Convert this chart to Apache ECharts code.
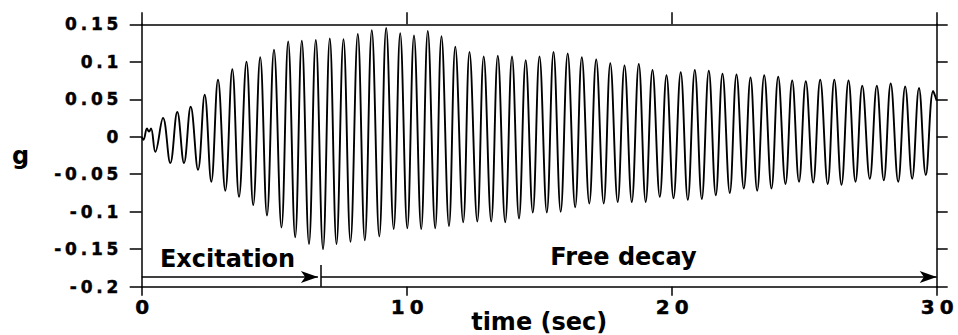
<!DOCTYPE html>
<html>
<head>
<meta charset="utf-8">
<script src="https://cdn.jsdelivr.net/npm/echarts@6/dist/echarts.min.js"></script>
<style>
html,body{margin:0;padding:0;background:#fff;}
#chart{width:958px;height:335px;}
text[style*="17px"]{letter-spacing:3.8px;stroke:#000;stroke-width:0.45px;}
text[style*="20px"]{letter-spacing:5px;stroke:#000;stroke-width:0.45px;}
</style>
</head>
<body>
<div id="chart"></div>
<script>
// time of each extremum of the trace (sec)
const timeSec = [
  0, 0.068, 0.200, 0.275, 0.351,
  0.513, 0.804, 1.079, 1.343, 1.596,
  1.849, 2.125, 2.377, 2.626, 2.879,
  3.155, 3.419, 3.672, 3.955, 4.208,
  4.472, 4.728, 4.992, 5.275, 5.528,
  5.792, 6.042, 6.313, 6.570, 6.842,
  7.098, 7.351, 7.615, 7.879, 8.155,
  8.419, 8.683, 8.966, 9.226, 9.509,
  9.755, 10.023, 10.275, 10.547, 10.796,
  11.075, 11.313, 11.596, 11.834, 12.132,
  12.370, 12.664, 12.906, 13.189, 13.438,
  13.717, 13.974, 14.238, 14.491, 14.758,
  15.011, 15.287, 15.540, 15.811, 16.075,
  16.358, 16.608, 16.891, 17.151, 17.434,
  17.683, 17.962, 18.219, 18.494, 18.758,
  19.019, 19.275, 19.551, 19.804, 20.068,
  20.340, 20.608, 20.872, 21.136, 21.400,
  21.664, 21.917, 22.192, 22.445, 22.721,
  22.974, 23.226, 23.491, 23.766, 24.019,
  24.294, 24.547, 24.804, 25.060, 25.340,
  25.604, 25.887, 26.136, 26.408, 26.672,
  26.936, 27.192, 27.475, 27.740, 28.004,
  28.264, 28.547, 28.811, 29.075, 29.332,
  29.589, 29.868, 30.000
];
// acceleration at those instants (g)
const accelG = [
  0.000, -0.004, 0.011, 0.007, 0.011,
  -0.020, 0.025, -0.035, 0.033, -0.035,
  0.040, -0.044, 0.056, -0.060, 0.076,
  -0.072, 0.090, -0.080, 0.100, -0.091,
  0.106, -0.105, 0.116, -0.121, 0.127,
  -0.134, 0.128, -0.143, 0.129, -0.150,
  0.131, -0.143, 0.130, -0.140, 0.137,
  -0.138, 0.142, -0.133, 0.145, -0.123,
  0.138, -0.122, 0.135, -0.123, 0.141,
  -0.122, 0.134, -0.119, 0.120, -0.114,
  0.113, -0.113, 0.107, -0.113, 0.108,
  -0.114, 0.107, -0.109, 0.102, -0.101,
  0.107, -0.101, 0.113, -0.100, 0.111,
  -0.094, 0.106, -0.089, 0.103, -0.089,
  0.098, -0.087, 0.095, -0.087, 0.097,
  -0.087, 0.089, -0.080, 0.082, -0.082,
  0.086, -0.084, 0.089, -0.083, 0.088,
  -0.078, 0.084, -0.075, 0.083, -0.069,
  0.079, -0.072, 0.082, -0.069, 0.080,
  -0.063, 0.075, -0.060, 0.074, -0.061,
  0.076, -0.063, 0.076, -0.064, 0.075,
  -0.060, 0.068, -0.056, 0.068, -0.058,
  0.071, -0.060, 0.067, -0.056, 0.065,
  -0.051, 0.061, 0.048
];
// axis ranges / ticks
const xRange = [0, 30];
const xStep = 10;
const yRange = [-0.2, 0.15];
const yStep = 0.05;
const xTitle = 'time (sec)';
const yTitle = 'g';
// phase annotations (data units)
const phaseNames = ['Excitation', 'Free decay'];
const phaseLabelTime = [3.24, 18.18];
const phaseLabelG = [-0.163, -0.161];
const excitationSpan = [0, 6.65];
const freeDecaySpan = [6.77, 30.0];
const arrowLevelG = -0.187;
const dividerTime = 6.77;
const dividerSpanG = [-0.171, -0.2];

const FONT = 'DejaVu Sans';
const INK = '#000';
const chart = echarts.init(document.getElementById('chart'), null, {renderer: 'svg'});

const axisLine = {onZero: false, lineStyle: {color: INK, width: 1.5}};
const tickStyle = {color: INK, width: 1.5};

const option = {
  animation: false,
  backgroundColor: '#fff',
  grid: {left: 141.7, right: 21.3, top: 24.3, bottom: 48.3, outerBoundsMode: 'none', containLabel: false},
  xAxis: [
    {
      type: 'value', position: 'bottom', min: xRange[0], max: xRange[1], interval: xStep,
      axisLine: axisLine,
      axisTick: {inside: false, length: 9, lineStyle: tickStyle},
      axisLabel: {margin: 20.5, verticalAlign: 'middle', padding: [0, 0, 0, 6], fontFamily: FONT, fontWeight: 'bold', fontSize: 20, color: INK},
      splitLine: {show: false},
      name: xTitle, nameLocation: 'middle', nameGap: 35, nameMoveOverlap: false,
      nameTextStyle: {fontFamily: FONT, fontWeight: 'bold', fontSize: 24, color: INK, verticalAlign: 'middle'}
    },
    {
      type: 'value', position: 'top', min: xRange[0], max: xRange[1], interval: xStep,
      axisLine: axisLine,
      axisTick: {inside: false, length: 12, lineStyle: tickStyle},
      axisLabel: {show: false},
      splitLine: {show: false}
    }
  ],
  yAxis: [
    {
      type: 'value', position: 'left', min: yRange[0], max: yRange[1], interval: yStep,
      axisLine: axisLine,
      axisTick: {inside: false, length: 12, lineStyle: tickStyle},
      axisLabel: {margin: 19.5, fontFamily: FONT, fontWeight: 'bold', fontSize: 17, color: INK},
      splitLine: {show: false},
      name: yTitle, nameLocation: 'middle', nameRotate: 0, nameGap: 121, nameMoveOverlap: false,
      nameTextStyle: {fontFamily: FONT, fontWeight: 'bold', fontSize: 24, color: INK, align: 'center', verticalAlign: 'middle'}
    },
    {
      type: 'value', position: 'right', min: yRange[0], max: yRange[1], interval: yStep,
      axisLine: axisLine,
      axisTick: {inside: false, length: 11, lineStyle: tickStyle},
      axisLabel: {show: false},
      splitLine: {show: false}
    }
  ],
  series: [
    {
      type: 'line',
      data: timeSec.map((t, i) => [t, accelG[i]]),
      showSymbol: false,
      smooth: 0.4,
      lineStyle: {color: INK, width: 1.9},
      silent: true,
      markLine: {
        silent: true,
        symbol: ['none', 'arrow'],
        symbolSize: [9, 17],
        label: {show: false},
        lineStyle: {color: INK, width: 1.5, type: 'solid'},
        emphasis: {disabled: true},
        data: [
          [{coord: [excitationSpan[0], arrowLevelG], symbol: 'none'}, {coord: [excitationSpan[1], arrowLevelG], symbol: 'arrow'}],
          [{coord: [freeDecaySpan[0], arrowLevelG], symbol: 'none'}, {coord: [freeDecaySpan[1], arrowLevelG], symbol: 'arrow'}],
          [{coord: [dividerTime, dividerSpanG[0]], symbol: 'none'}, {coord: [dividerTime, dividerSpanG[1]], symbol: 'none'}]
        ]
      },
      markPoint: {
        silent: true,
        symbol: 'circle',
        symbolSize: 1,
        itemStyle: {color: 'rgba(0,0,0,0)'},
        label: {show: true, position: 'inside', formatter: '{b}', fontFamily: FONT, fontWeight: 'bold', fontSize: 24, color: INK},
        data: phaseNames.map((n, i) => ({name: n, coord: [phaseLabelTime[i], phaseLabelG[i]]}))
      }
    }
  ]
};
chart.setOption(option);
</script>
</body>
</html>
